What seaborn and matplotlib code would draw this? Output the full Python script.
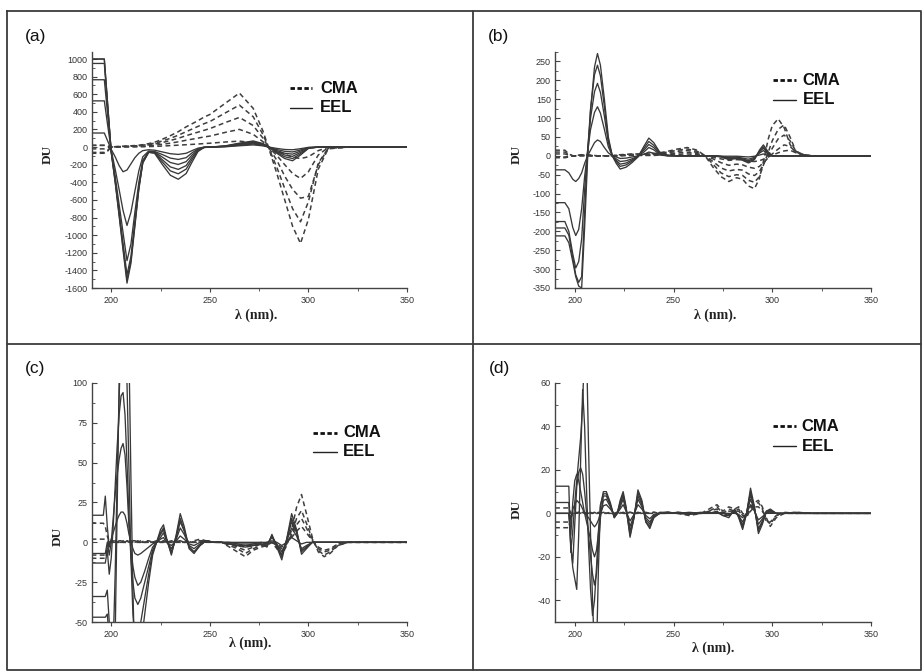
import numpy as np
import pandas as pd
import matplotlib
matplotlib.use("Agg")
import matplotlib.pyplot as plt
import seaborn as sns
from matplotlib.lines import Line2D
from matplotlib.ticker import MultipleLocator

sns.set_theme(style="white")
plt.rcParams['font.family'] = ['Liberation Sans', 'DejaVu Sans']
plt.rcParams['axes.unicode_minus'] = False

# ---------------- Panel (a) ----------------
A_WL = [190, 196.5, 198, 200, 202, 204, 206, 208, 210, 212,
        214, 216, 219, 222, 226, 230, 234, 238, 241, 244,
        247, 250, 258, 265, 272, 277, 280, 284, 288, 292,
        296, 300, 305, 310, 320, 350]
A_EEL = [
    [1000, 1000, 550, -60, -400, -780, -1170, -1545, -1320, -900,
     -480, -180, -60, -70, -200, -320, -365, -300, -170, -50,
     -5, 0, 15, 45, 70, 40, 0, -70, -130, -155,
     -90, -15, 0, 0, 0, 0],
    [1000, 1000, 540, -55, -390, -760, -1140, -1505, -1290, -880,
     -470, -175, -58, -65, -170, -270, -303, -250, -140, -42,
     -4, 0, 12, 40, 62, 35, 0, -60, -110, -130,
     -75, -12, 0, 0, 0, 0],
    [950, 950, 510, -50, -370, -730, -1090, -1450, -1240, -840,
     -450, -170, -55, -60, -145, -225, -253, -210, -115, -35,
     -4, 0, 10, 35, 55, 30, 0, -50, -90, -105,
     -60, -10, 0, 0, 0, 0],
    [765, 765, 410, -45, -330, -650, -970, -1290, -1100, -740,
     -400, -150, -50, -55, -115, -175, -197, -165, -90, -28,
     -3, 0, 8, 30, 45, 25, 0, -40, -70, -80,
     -45, -8, 0, 0, 0, 0],
    [525, 525, 280, -35, -250, -480, -720, -890, -740, -500,
     -270, -110, -45, -50, -85, -125, -140, -120, -65, -20,
     -2, 0, 6, 22, 35, 20, 0, -28, -48, -55,
     -32, -5, 0, 0, 0, 0],
    [160, 160, 80, -25, -110, -210, -280, -260, -190, -120,
     -70, -40, -30, -35, -55, -75, -83, -70, -40, -12,
     -1, 0, 4, 15, 25, 14, 0, -15, -27, -30,
     -18, -3, 0, 0, 0, 0],
]
A_CMA = [
    [-70, -70, -50, 0, 5, 8, 10, 12, 15, 18,
     22, 28, 40, 55, 90, 130, 175, 230, 265, 300,
     340, 370, 500, 614, 440, 180, -20, -300, -600, -900,
     -1094, -820, -250, -20, 0, 0],
    [20, 20, 15, 0, 4, 6, 8, 10, 12, 14,
     18, 22, 32, 45, 70, 100, 135, 175, 205, 235,
     265, 290, 390, 477, 345, 140, -15, -230, -470, -700,
     -848, -620, -180, -15, 0, 0],
    [-60, -60, -40, 0, 3, 5, 6, 8, 10, 12,
     14, 17, 25, 35, 52, 75, 100, 130, 150, 170,
     190, 210, 280, 337, 245, 100, -10, -150, -330, -480,
     -580, -560, -200, -15, 0, 0],
    [20, 20, 10, 0, 2, 3, 4, 5, 6, 7,
     8, 10, 15, 22, 32, 45, 60, 78, 90, 102,
     115, 125, 168, 201, 145, 60, -5, -95, -200, -300,
     -356, -280, -90, -5, 0, 0],
    [-20, -20, -10, 0, 1, 1, 2, 2, 3, 3,
     4, 4, 6, 8, 12, 17, 22, 27, 31, 35,
     40, 44, 58, 68, 50, 22, 0, -40, -80, -115,
     -130, -110, -40, -3, 0, 0],
]

# ---------------- Panel (b) ----------------
B_WL = [190, 195, 197, 199, 200.5, 202, 203.5, 205, 206.5, 208,
        210, 211.5, 213, 215, 217, 219, 221, 223, 226, 229,
        232, 235, 237.5, 240, 243, 247, 252, 257, 262, 266,
        270, 274, 278, 282, 285, 288, 291, 293.5, 295.5, 298,
        300, 303, 306, 309, 312, 316, 320, 350]
B_EEL = [
    [-212, -212, -230, -280, -320, -345, -350, -190, -10, 120,
     235, 271, 240, 150, 50, 0, -20, -35, -30, -18,
     -3, 25, 47, 35, 10, 2, 0, 0, 0, 0,
     0, -3, -10, -7, -12, -19, -10, 15, 29, 10,
     0, 0, 0, 0, 0, 0, 0, 0],
    [-191, -191, -210, -270, -315, -335, -320, -150, 10, 125,
     215, 240, 212, 130, 42, 0, -15, -28, -24, -14,
     -2, 20, 38, 28, 8, 1, 0, 0, 0, 0,
     0, -2, -8, -6, -10, -16, -8, 12, 24, 8,
     0, 0, 0, 0, 0, 0, 0, 0],
    [-174, -174, -200, -260, -297, -280, -220, -90, 15, 100,
     170, 192, 168, 105, 35, 0, -12, -22, -19, -11,
     -2, 15, 30, 22, 6, 1, 0, 0, 0, 0,
     0, -2, -6, -5, -8, -13, -6, 10, 20, 6,
     0, 0, 0, 0, 0, 0, 0, 0],
    [-124, -124, -140, -190, -211, -195, -140, -55, 10, 70,
     115, 130, 113, 70, 24, 0, -8, -15, -13, -8,
     -1, 10, 22, 16, 4, 0, 0, 0, 0, 0,
     0, -1, -4, -3, -6, -9, -4, 7, 14, 4,
     0, 0, 0, 0, 0, 0, 0, 0],
    [-37, -37, -45, -62, -68, -60, -45, -20, 0, 15,
     35, 42, 38, 22, 8, 0, -3, -7, -6, -3,
     0, 4, 10, 7, 2, 0, 0, 0, 0, 0,
     0, -1, -1, -1, -2, -3, -1, 2, 5, 1,
     0, 0, 0, 0, 0, 0, 0, 0],
]
B_CMA = [
    [15, 15, 5, 0, 0, 2, 3, 3, 2, 2,
     1, 0, 0, 0, 0, 0, 2, 3, 4, 5,
     5, 5, 5, 6, 8, 12, 18, 22, 15, 0,
     -30, -55, -68, -58, -62, -80, -87, -60, -15, 45,
     80, 98, 75, 30, 8, 2, 0, 0],
    [-5, -5, -3, 0, 0, 1, 2, 2, 2, 1,
     1, 0, 0, 0, 0, 0, 1, 2, 3, 4,
     4, 4, 5, 5, 7, 10, 15, 18, 12, 0,
     -22, -45, -55, -50, -52, -65, -70, -55, -25, 10,
     40, 70, 82, 50, 12, 3, 0, 0],
    [10, 10, 4, 0, 0, 1, 1, 1, 1, 1,
     0, 0, 0, 0, 0, 0, 1, 1, 2, 3,
     3, 3, 3, 4, 5, 8, 12, 14, 9, 0,
     -15, -32, -40, -36, -38, -48, -52, -42, -22, 0,
     20, 45, 55, 40, 12, 3, 0, 0],
    [-3, -3, -1, 0, 0, 0, 1, 1, 1, 0,
     0, 0, 0, 0, 0, 0, 0, 1, 1, 2,
     2, 2, 2, 2, 3, 5, 8, 9, 6, 0,
     -8, -18, -25, -22, -24, -30, -33, -28, -18, -5,
     5, 18, 29, 25, 10, 2, 0, 0],
    [5, 5, 2, 0, 0, 0, 0, 0, 0, 0,
     0, 0, 0, 0, 0, 0, 0, 0, 1, 1,
     1, 1, 1, 1, 2, 3, 4, 5, 3, 0,
     -4, -8, -12, -10, -11, -14, -15, -13, -9, -3,
     2, 8, 13, 15, 8, 2, 0, 0],
]

# ---------------- Panel (c) ----------------
C_WL = [190, 196, 197, 198, 199, 200, 201, 202, 203, 204,
        205, 206, 207, 208, 209, 210, 211, 212, 213.5, 215,
        217, 219, 221, 223, 225, 226.5, 228, 230.5, 233, 235,
        237, 239.5, 242, 245, 248, 252, 256, 260, 264, 268,
        272, 276, 279, 281.5, 284, 286.5, 289, 291.5, 294, 296.5,
        299, 302, 305, 308, 311, 315, 320, 350]
C_EEL = [
    [-47, -47, -47, -45, -60, -90, -110, -60, 20, 100,
     180, 240, 250, 200, 120, 40, -30, -80, -95, -65,
     -45, -25, -8, 0, 8, 11, 3, -8, 5, 18,
     10, -4, -7, -2, 1, 0, 0, -1, -2, -3,
     -2, -1, -3, 5, -3, -11, 2, 18, 8, -7.5,
     -4, 0, 0, 0, 0, 0, 0, 0],
    [-34, -34, -34, -30, -50, -70, -65, -20, 40, 90,
     130, 150, 140, 100, 45, -10, -45, -62, -65, -50,
     -35, -20, -6, 0, 6, 9, 2, -7, 4, 15,
     8, -3, -6, -2, 1, 0, 0, -1, -2, -2,
     -2, -1, -2, 4, -2, -9, 2, 15, 7, -6,
     -3, 0, 0, 0, 0, 0, 0, 0],
    [-13, -13, -13, -5, -20, -10, 10, 35, 60, 80,
     92, 94, 80, 50, 15, -10, -25, -35, -39, -35,
     -25, -15, -5, 0, 5, 8, 2, -6, 3, 13,
     7, -3, -6, -2, 1, 0, 0, -1, -1, -2,
     -1, -1, -2, 4, -2, -8, 1, 13, 6, -5,
     -3, 0, 0, 0, 0, 0, 0, 0],
    [-7, -7, -7, 0, -8, 0, 15, 30, 42, 52,
     59, 62, 55, 35, 10, -5, -15, -22, -27, -25,
     -18, -10, -3, 0, 3, 6, 1, -4, 2, 9,
     5, -2, -4, -1, 1, 0, 0, 0, -1, -1,
     -1, 0, -1, 3, -1, -6, 1, 9, 4, -4,
     -2, 0, 0, 0, 0, 0, 0, 0],
    [17, 17, 29, 10, -3, 2, 6, 10, 14, 17,
     19, 19, 17, 12, 5, 0, -4, -7, -8, -7,
     -5, -3, -1, 0, 2, 3, 0, -2, 1, 4,
     2, -1, -2, 0, 0, 0, 0, 0, 0, 0,
     0, 0, 0, 1, 0, -2, 0, 3, 1, -1,
     0, 0, 0, 0, 0, 0, 0, 0],
]
C_CMA = [
    [12, 12, 10, 4, 0, 1, 1, 0, 0, 1,
     1, 0, 0, 1, 0, 0, 1, 1, 0, 0,
     1, 1, 0, 0, 1, 1, 0, 0, 1, 1,
     0, 0, 1, 2, 1, 0, 0, -3, -6, -9,
     -5, -3, -2, 0, -4, -8, -2, 8, 22, 30,
     18, 3, -6, -9, -7, -2, 0, 0],
    [2, 2, 2, 1, 0, 0, 1, 1, 0, 0,
     1, 0, 0, 0, 1, 0, 0, 1, 0, 0,
     0, 1, 0, 0, 0, 1, 0, 0, 0, 1,
     0, 0, 0, 1, 1, 0, 0, -2, -4, -7,
     -4, -2, -1, 0, -3, -6, -1, 5, 15, 20,
     12, 2, -5, -8, -6, -2, 0, 0],
    [-8, -8, -8, -4, 0, 0, 0, 1, 0, 0,
     0, 1, 0, 0, 0, 1, 0, 0, 0, 1,
     0, 0, 0, 1, 0, 0, 0, 1, 0, 0,
     0, 1, 0, 0, 1, 0, 0, -1, -3, -5,
     -3, -1, -1, 0, -2, -4, 0, 4, 11, 15,
     9, 1, -4, -6, -5, -1, 0, 0],
    [-10, -10, -10, -5, 0, 0, 0, 0, 1, 0,
     0, 0, 0, 1, 0, 0, 0, 0, 1, 0,
     0, 0, 0, 1, 0, 0, 0, 0, 1, 0,
     0, 0, 0, 1, 0, 0, 0, -1, -2, -3,
     -2, -1, 0, 0, -1, -3, 0, 3, 7, 10,
     6, 1, -3, -5, -4, -1, 0, 0],
]

# ---------------- Panel (d) ----------------
D_WL = [190, 196, 197, 198, 199, 200, 201, 202, 203, 204,
        205, 206, 207, 208, 209, 210, 211, 212, 213, 214.5,
        216, 218, 220, 221.5, 223, 224.5, 226, 228, 230, 232,
        234, 236, 238, 240, 243, 247, 252, 258, 264, 268,
        272, 275, 278, 281, 283, 285, 287, 289, 291, 293,
        295, 297, 299, 302, 306, 312, 320, 350]
D_EEL = [
    [12.5, 12.5, 12.5, -18, -8, 5, 15, 25, 35, 50,
     80, 75, 30, -10, -40, -65, -65, -25, 3, 10,
     10, 5, -2, 0, 6, 10, 3, -11, -2, 10.8,
     6, -4, -7, -2, 0.5, 0.5, 0, -0.5, 0, 0,
     1, -1, -2, 2, -2, -7.4, 0, 11.6, 3, -9.3,
     -5, 1, 2, 0, 0, 0.5, 0, 0],
    [5, 5, 5, -15, -25, -30, -35, -10, 25, 57,
     40, 10, -15, -35, -47, -40, -25, -8, 4, 9,
     9, 4, -2, 0, 5, 9, 2, -10, -2, 9.5,
     5, -4, -6, -2, 0, 0.5, 0, 0, 0.5, 0,
     0.5, -1, -1, 1.5, -1.5, -6.5, 0, 10, 2.5, -8,
     -4, 1, 1.5, 0, 0, 0, 0, 0],
    [0, 0, 0, -15, -23, -5, 12, 19, 21, 18,
     10, 0, -10, -20, -28, -33, -28, -15, -2, 8,
     8, 4, -1.5, 0, 4, 8, 2, -8, -1.5, 8,
     4, -3, -5, -1.5, 0, 0, 0.5, 0, 0, 0.5,
     0, 0, -1, 1, -1, -5.5, 0, 8.5, 2, -7,
     -3.5, 0.5, 1, 0, 0, 0, 0, 0],
    [0, 0, 0, -10, 5, 15, 18, 15, 10, 5,
     0, -4, -8, -12, -17, -20, -17, -9, -1, 6,
     6.5, 3, -1, 0, 3, 6.5, 1.5, -6, -1, 6.5,
     3, -2, -4, -1, 0, 0, 0, 0.5, 0, 0,
     0, 0.5, -0.5, 0.5, -1, -4, 0, 6.5, 1.5, -5,
     -2.5, 0.5, 0.5, 0, 0, 0, 0, 0],
    [0, 0, 0, -3, 2, 4, 6, 5, 4, 2,
     0, -1, -2, -3.5, -5, -6.2, -5, -3, 0, 3.5,
     4, 2, -0.5, 0, 2, 4, 1, -3.5, -0.5, 4,
     2, -1, -2.5, -0.5, 0, 0, 0, 0, 0, 0,
     0, 0, 0, 0, -0.5, -2, 0, 4, 1, -3,
     -1.5, 0, 0, 0, 0, 0, 0, 0],
]
D_CMA = [
    [2.5, 2.5, 2.5, 0, 0, 0.5, 0, 0.5, 0, 0.5,
     0, 0.5, 0, 0.5, 0, 0.5, 0, 0.5, 0, 0.5,
     0, 0.5, 0, 0.5, 0, 0.5, 0, 0.5, 0, 0.5,
     0, 0.5, 0, 0.5, 0, 0.5, 0, -1, 0, 2,
     4, 1, 3, 2, 3, 0, -1, 3, 5, 6,
     3, -3, -5, -1, 0.5, 0, 0, 0],
    [-4, -4, -4, -1, 0, 0, 0.5, 0, 0, 0.5,
     0, 0, 0.5, 0, 0, 0.5, 0, 0, 0.5, 0,
     0, 0.5, 0, 0, 0.5, 0, 0, 0.5, 0, 0,
     0.5, 0, 0, 0.5, 0, 0, 0.5, 0, 0, 1,
     3, 0, 2, 1, 2, -1, -2, 2, 4, 5,
     2, -4, -4, -1, 0, 0.5, 0, 0],
    [-6.6, -6.6, -6.6, -2, 0, 0, 0, 0.5, 0, 0,
     0, 0.5, 0, 0, 0, 0.5, 0, 0, 0, 0.5,
     0, 0, 0, 0.5, 0, 0, 0, 0.5, 0, 0,
     0, 0.5, 0, 0, 0, 0.5, 0, 0, 0, 1,
     2, 0, 1, 1, 1, -1, -1, 1, 3, 3,
     1, -2, -6, -2, 0, 0, 0, 0],
]

PANEL_LABELS = ["(a)", "(b)", "(c)", "(d)"]
SERIES = ["CMA", "EEL"]
X_LABEL = "λ (nm)."
Y_LABEL = "DU"

# ---------------- layout / style ----------------
W, H = 923, 671
LINE_COL = "#383838"


def fx(px):
    return px / W


def fy(py):
    return 1 - py / H


panels = [
    dict(wl=A_WL, eel=A_EEL, cma=A_CMA, box=(91.5, 52, 407, 288),
         ylim=(-1600, 1080), major=200, minor=100, ymin_tick=-1600,
         leg=(0.629, 0.70, 0.724, 0.847, 0.763), du=(-0.14, 0.564),
         xl=(0.521, -0.114), lab=(25, 37)),
    dict(wl=B_WL, eel=B_EEL, cma=B_CMA, box=(555, 52, 871, 288),
         ylim=(-350, 275), major=50, minor=25, ymin_tick=-350,
         leg=(0.689, 0.763, 0.783, 0.881, 0.797), du=(-0.1225, 0.564),
         xl=(0.506, -0.114), lab=(488, 37)),
    dict(wl=C_WL, eel=C_EEL, cma=C_CMA, box=(91.5, 383, 407, 622),
         ylim=(-50, 100), major=25, minor=12.5, ymin_tick=-50,
         leg=(0.702, 0.778, 0.797, 0.792, 0.713), du=(-0.108, 0.358),
         xl=(0.504, -0.088), lab=(25, 369)),
    dict(wl=D_WL, eel=D_EEL, cma=D_CMA, box=(555, 383, 871, 622),
         ylim=(-50, 60), major=20, minor=10, ymin_tick=-40,
         leg=(0.689, 0.763, 0.781, 0.819, 0.735), du=(-0.121, 0.473),
         xl=(0.5, -0.109), lab=(489, 369)),
]

fig = plt.figure(figsize=(W / 100, H / 100), dpi=100)
fig.patch.set_facecolor("white")

# table-like frame around the four panels
frame_kw = dict(transform=fig.transFigure, color="#3c3c3c", lw=1.3)
fig.add_artist(Line2D([fx(7), fx(921), fx(921), fx(7), fx(7)],
                      [fy(11), fy(11), fy(670), fy(670), fy(11)], **frame_kw))
fig.add_artist(Line2D([fx(473), fx(473)], [fy(11), fy(670)], **frame_kw))
fig.add_artist(Line2D([fx(7), fx(921)], [fy(344), fy(344)], **frame_kw))


def long_frame(wl, curves, name):
    rows = []
    for i, c in enumerate(curves):
        for x, y in zip(wl, c):
            rows.append((x, y, f"{name}{i}"))
    return pd.DataFrame(rows, columns=["wl", "du", "curve"])


for p, lab in zip(panels, PANEL_LABELS):
    x0, y0, x1, y1 = p["box"]
    ax = fig.add_axes([fx(x0), fy(y1), fx(x1) - fx(x0), fy(y0) - fy(y1)])
    ax.set_facecolor("none")

    df_c = long_frame(p["wl"], p["cma"], "CMA")
    df_e = long_frame(p["wl"], p["eel"], "EEL")
    sns.lineplot(data=df_c, x="wl", y="du", units="curve", estimator=None,
                 sort=False, color="#3e3e3e", lw=1.1,
                 linestyle=(0, (3.2, 2.2)), ax=ax, legend=False)
    sns.lineplot(data=df_e, x="wl", y="du", units="curve", estimator=None,
                 sort=False, color=LINE_COL, lw=0.95, ax=ax, legend=False)

    ax.set_xlim(190, 350)
    ax.set_ylim(*p["ylim"])
    ax.set_xticks([200, 250, 300, 350])
    ax.xaxis.set_minor_locator(MultipleLocator(25))
    ymax_tick = p["ylim"][1]
    ticks = np.arange(p["ymin_tick"], ymax_tick + 1e-9, p["major"])
    ax.set_yticks(ticks)
    ax.yaxis.set_minor_locator(MultipleLocator(p["minor"]))
    ax.set_ylim(*p["ylim"])
    ax.set_xlabel("")
    ax.set_ylabel("")

    for s in ["top", "right"]:
        ax.spines[s].set_visible(False)
    for s in ["left", "bottom"]:
        ax.spines[s].set_color("#444444")
        ax.spines[s].set_linewidth(1.0)

    ax.tick_params(axis="y", which="major", direction="in", length=3.5,
                   width=0.8, labelsize=6.5, pad=3, color="#444444",
                   labelcolor="#333333", left=True)
    ax.tick_params(axis="y", which="minor", direction="in", length=2,
                   width=0.6, color="#444444", left=True)
    ax.tick_params(axis="x", which="major", direction="out", length=3,
                   width=0.8, labelsize=6.5, pad=2.5, color="#444444",
                   labelcolor="#333333", bottom=True)
    ax.tick_params(axis="x", which="minor", direction="out", length=2,
                   width=0.6, color="#444444", bottom=True)
    for t in ax.get_xticklabels() + ax.get_yticklabels():
        t.set_fontfamily(["Liberation Sans", "DejaVu Sans"])

    ax.text(p["du"][0], p["du"][1], Y_LABEL, transform=ax.transAxes,
            rotation=90, ha="center", va="center", fontsize=9.5,
            fontweight="bold", family=["Liberation Serif", "DejaVu Serif"],
            color="#222222")
    ax.text(p["xl"][0], p["xl"][1], X_LABEL, transform=ax.transAxes,
            ha="center", va="center", fontsize=10, fontweight="bold",
            family=["Liberation Serif", "DejaVu Serif"], color="#222222")

    # legend drawn in axes coordinates
    hx0, hx1, tx, yc, ye = p["leg"]
    ax.add_line(Line2D([hx0, hx1], [yc, yc], transform=ax.transAxes,
                       color="#111111", lw=2.0, linestyle=(0, (1.6, 0.9))))
    ax.add_line(Line2D([hx0, hx1], [ye, ye], transform=ax.transAxes,
                       color="#222222", lw=1.0))
    ax.text(tx, yc, SERIES[0], transform=ax.transAxes, ha="left",
            va="center", fontsize=12, fontweight="bold", color="#111111")
    ax.text(tx, ye, SERIES[1], transform=ax.transAxes, ha="left",
            va="center", fontsize=12, fontweight="bold", color="#111111")

    fig.text(fx(p["lab"][0]), fy(p["lab"][1]), lab, ha="left", va="center",
             fontsize=12.5, color="#111111")

fig.savefig("out.png", dpi=100)
